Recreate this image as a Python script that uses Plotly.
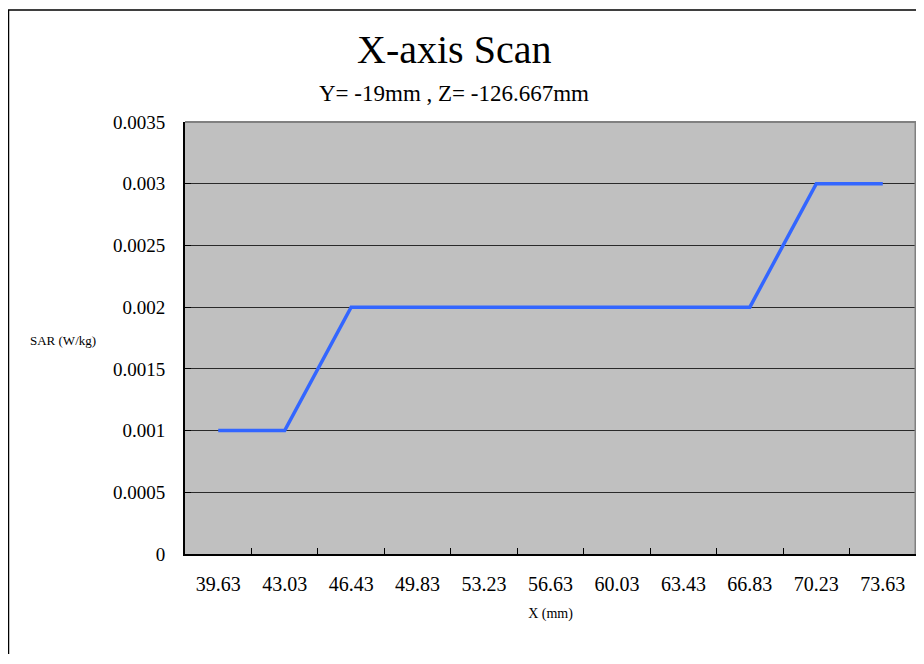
import plotly.graph_objects as go

# X positions of the scan (mm) and SAR values
x_labels = ["39.63", "43.03", "46.43", "49.83", "53.23", "56.63",
            "60.03", "63.43", "66.83", "70.23", "73.63"]
sar_values = [0.001, 0.001, 0.002, 0.002, 0.002, 0.002,
              0.002, 0.002, 0.002, 0.003, 0.003]
y_ticks = [0, 0.0005, 0.001, 0.0015, 0.002, 0.0025, 0.003, 0.0035]
y_ticktext = ["0", "0.0005", "0.001", "0.0015", "0.002", "0.0025", "0.003", "0.0035"]

FONT = "Liberation Serif, Times New Roman, serif"

# figure is 908x646 so that with the page's 8px body margin it fills the window
W, H = 908, 646
L, R, T, B = 177, 0, 114, 100
PW, PH = W - L - R, H - T - B


def px_x(x):  # figure px -> paper x
    return (x - L) / PW


def px_y(y):  # figure px -> paper y
    return (H - B - y) / PH


fig = go.Figure()
fig.add_trace(
    go.Scatter(
        x=x_labels,
        y=sar_values,
        mode="lines",
        line=dict(color="#3366ff", width=3.5),
        showlegend=False,
    )
)

fig.update_layout(
    width=W,
    height=H,
    margin=dict(l=L, r=R, t=T, b=B, pad=0),
    paper_bgcolor="white",
    plot_bgcolor="#c0c0c0",
    font=dict(family=FONT, color="black"),
)

fig.update_xaxes(
    type="category",
    range=[-0.5, len(x_labels) - 0.5],
    tickson="boundaries",
    ticks="inside",
    ticklen=6,
    tickcolor="black",
    showgrid=False,
    showline=True,
    linecolor="black",
    linewidth=2,
    tickfont=dict(size=20, family=FONT),
    ticklabelstandoff=11,
    title=dict(text="X (mm)", font=dict(size=14, family=FONT), standoff=14),
)
fig.update_yaxes(
    range=[0, 0.0035],
    tickvals=y_ticks,
    ticktext=y_ticktext,
    ticks="inside",
    ticklen=6,
    tickcolor="black",
    showgrid=True,
    gridcolor="#2a2a2a",
    gridwidth=1,
    showline=True,
    linecolor="black",
    linewidth=2,
    zeroline=False,
    tickfont=dict(size=19, family=FONT),
    ticklabelstandoff=14,
)

# grey top and right edges of the plot area
fig.add_shape(type="line", xref="paper", yref="paper", x0=0, x1=1, y0=1, y1=1,
              line=dict(color="#808080", width=2))
fig.add_shape(type="line", xref="paper", yref="paper", x0=1, x1=1, y0=0, y1=1,
              line=dict(color="#808080", width=3))

# outer frame of the chart
fig.add_shape(type="rect", xref="paper", yref="paper",
              x0=px_x(0.5), x1=px_x(W + 20), y0=px_y(H + 20), y1=px_y(2),
              line=dict(color="black", width=1.5), fillcolor="rgba(0,0,0,0)")

fig.add_annotation(
    text="X-axis Scan",
    xref="paper", yref="paper", x=px_x(446), y=px_y(42),
    xanchor="center", yanchor="middle", showarrow=False,
    font=dict(size=40, family=FONT),
)
fig.add_annotation(
    text="Y= -19mm , Z= -126.667mm",
    xref="paper", yref="paper", x=px_x(446), y=px_y(85),
    xanchor="center", yanchor="middle", showarrow=False,
    font=dict(size=23, family=FONT),
)
fig.add_annotation(
    text="SAR (W/kg)",
    xref="paper", yref="paper", x=px_x(20), y=px_y(332),
    xanchor="left", yanchor="middle", showarrow=False,
    font=dict(size=13, family=FONT),
)

fig.write_html("out.html")
